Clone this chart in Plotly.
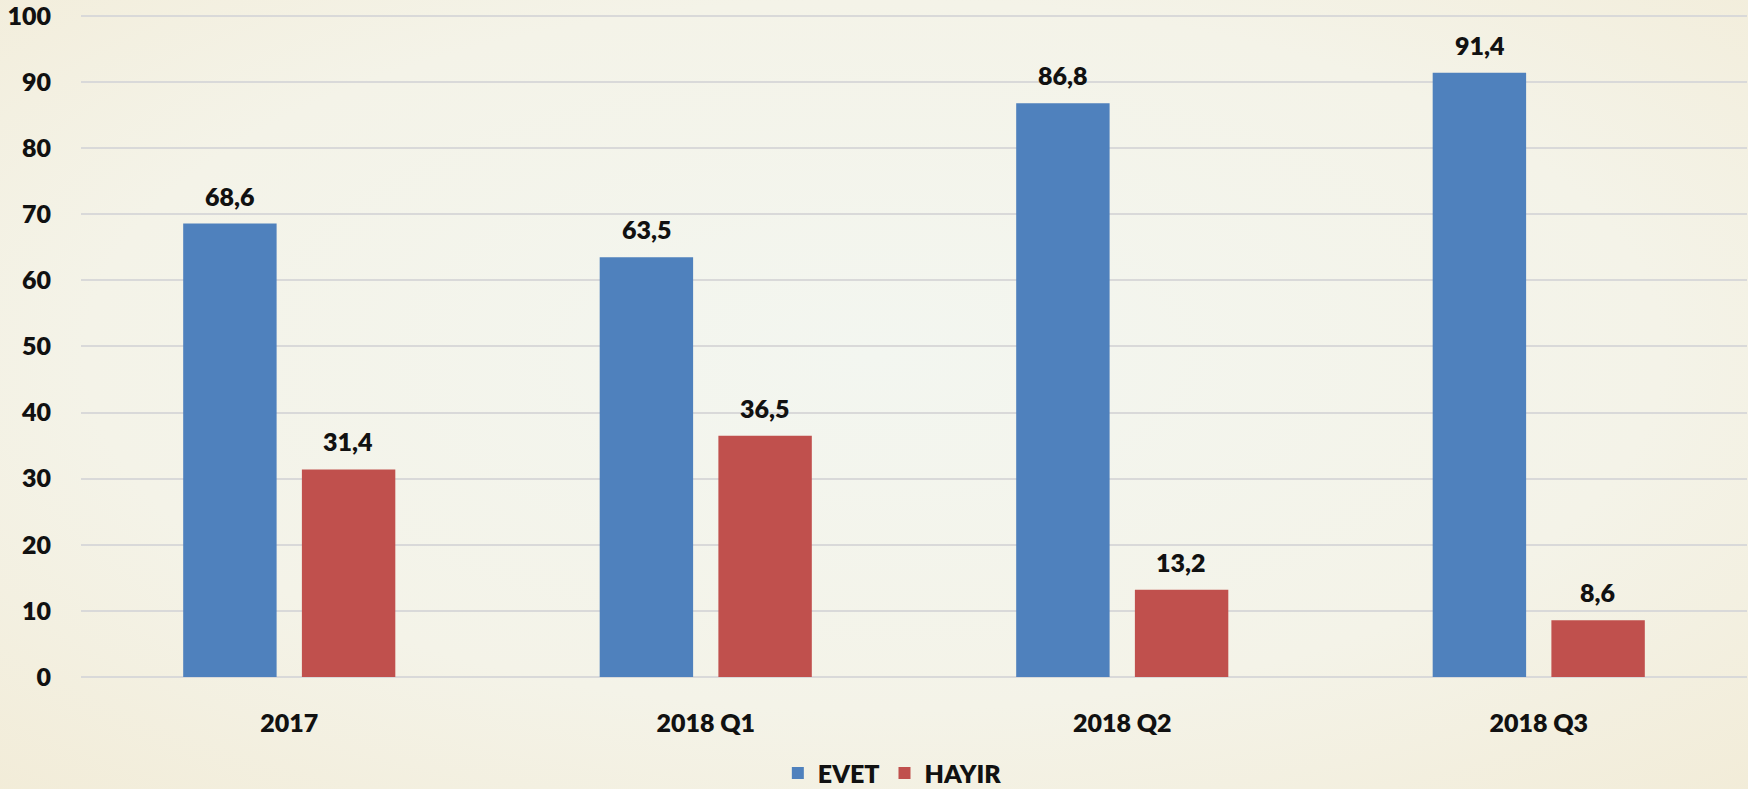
import plotly.graph_objects as go
import urllib.parse

categories = ["2017", "2018 Q1", "2018 Q2", "2018 Q3"]
evet = [68.6, 63.5, 86.8, 91.4]
hayir = [31.4, 36.5, 13.2, 8.6]
y_ticks = [0, 10, 20, 30, 40, 50, 60, 70, 80, 90, 100]

BLUE = "#4F81BD"
RED = "#C0504D"
FONT = "Lato"
FS = 25
WEIGHT = 800

W, H = 1748, 789

fig = go.Figure()
fig.add_trace(go.Bar(x=categories, y=evet, name="EVET", marker=dict(color=BLUE, line=dict(width=0))))
fig.add_trace(go.Bar(x=categories, y=hayir, name="HAYIR", marker=dict(color=RED, line=dict(width=0))))

# value labels above each bar, shifted onto its group slot
# (category index used for x so "2017" is not read as a number)
slot_shift = 59
for series, shift in ((evet, -slot_shift), (hayir, slot_shift)):
    for i, v in enumerate(series):
        fig.add_annotation(
            x=i, y=v, text=f"{v:.1f}".replace(".", ","),
            showarrow=False, xshift=shift, yanchor="bottom", yshift=11,
            font=dict(family=FONT, size=FS, color="#111111", weight=WEIGHT),
        )

# soft cream background with a lighter centre
svg = (
    f'<svg xmlns="http://www.w3.org/2000/svg" width="{W}" height="{H}">'
    '<defs><radialGradient id="g" cx="50%" cy="45%" r="75%">'
    '<stop offset="0%" stop-color="#F3F6F0"/>'
    '<stop offset="60%" stop-color="#F4F3E8"/>'
    '<stop offset="100%" stop-color="#F2ECD8"/>'
    '</radialGradient></defs>'
    f'<rect width="{W}" height="{H}" fill="url(#g)"/></svg>'
)
PLOT_H = 789 - 112 - 14
fig.add_layout_image(
    source="data:image/svg+xml;charset=utf-8," + urllib.parse.quote(svg),
    xref="paper", yref="paper", x=-81 / 1666, y=(789 - 112) / PLOT_H,
    sizex=W / 1666, sizey=H / PLOT_H, xanchor="left", yanchor="top",
    sizing="stretch", layer="below",
)

fig.update_layout(
    width=W, height=H,
    margin=dict(l=81, r=1, t=14, b=112, autoexpand=False),
    paper_bgcolor="#F4F3E8",
    plot_bgcolor="rgba(0,0,0,0)",
    barmode="group",
    bargap=0.43,
    bargroupgap=0.213,
    showlegend=True,
    legend=dict(
        orientation="h", x=0.487, xanchor="center", y=-0.145, yanchor="middle",
        font=dict(family=FONT, size=FS, color="#111111", weight=WEIGHT),
        bgcolor="rgba(0,0,0,0)", itemwidth=30,
    ),
    font=dict(family=FONT, color="#111111"),
)
fig.update_xaxes(
    type="category", range=[-0.5, len(categories) - 0.5], automargin=False,
    showgrid=False, showline=False, zeroline=False,
    ticks="outside", ticklen=24, tickcolor="rgba(0,0,0,0)",
    tickfont=dict(family=FONT, size=FS, color="#111111", weight=WEIGHT),
)
fig.update_yaxes(
    range=[0, 100.3], tickvals=y_ticks, automargin=False,
    ticklabeloverflow="allow",
    showgrid=True, gridcolor="#D9D9D9", gridwidth=2,
    zeroline=True, zerolinecolor="#D9D9D9", zerolinewidth=2,
    showline=False,
    ticks="outside", ticklen=24, tickcolor="rgba(0,0,0,0)",
    tickfont=dict(family=FONT, size=FS, color="#111111", weight=WEIGHT),
)

fig.write_html("out.html")
